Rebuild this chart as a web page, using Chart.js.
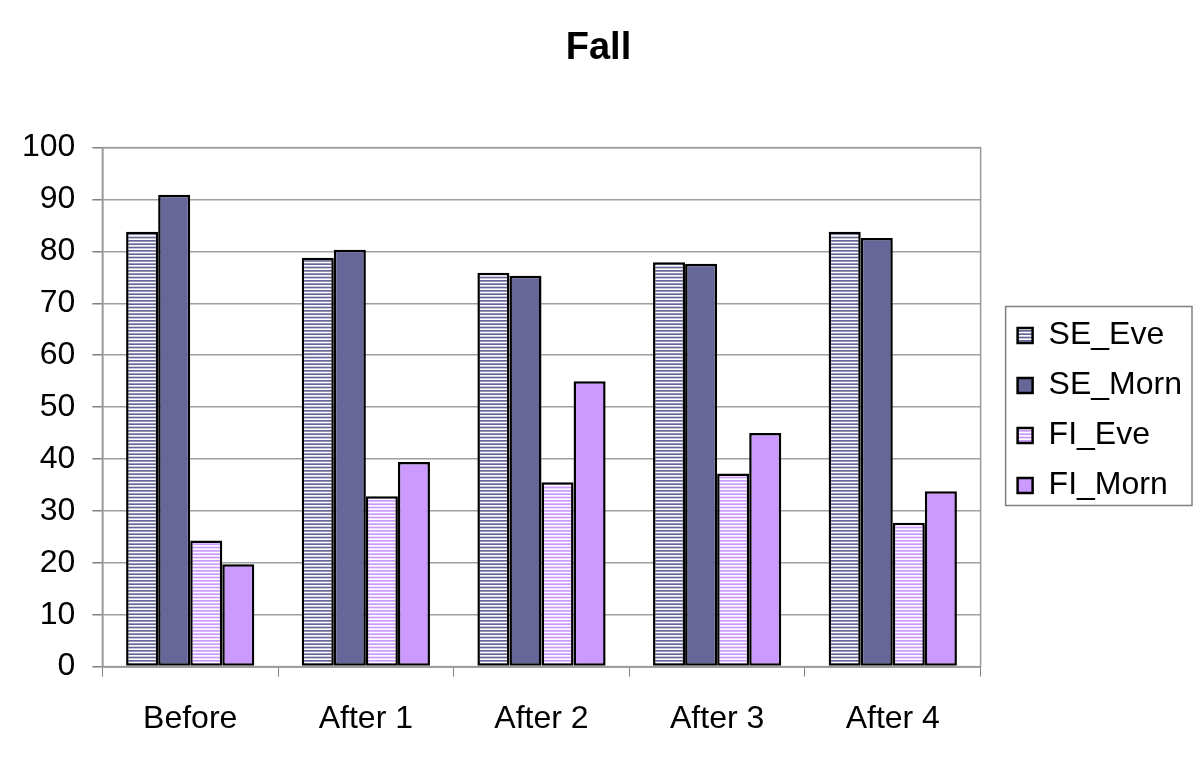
<!DOCTYPE html>
<html>
<head>
<meta charset="utf-8">
<script src="https://cdn.jsdelivr.net/npm/chart.js@4.4.1/dist/chart.umd.min.js"></script>
<style>
  html, body { margin: 0; padding: 0; background: #fff; }
  #wrap { width: 1200px; height: 761px; }
</style>
</head>
<body>
<div id="wrap"><canvas id="chart" width="1200" height="761"></canvas></div>
<script>
// categories and series
const categories = ['Before', 'After 1', 'After 2', 'After 3', 'After 4'];
const seEve  = [83.8, 78.8, 75.9, 77.9, 83.8];
const seMorn = [90.9, 80.3, 75.3, 77.6, 82.6];
const fiEve  = [24.3, 32.8, 35.5, 37.2, 27.7];
const fiMorn = [19.7, 39.4, 55.0, 45.0, 33.8];

const FONT = 'Liberation Sans, Arial, sans-serif';

// horizontal stripe pattern
function stripes(color) {
    const c = document.createElement('canvas');
    c.width = 8;
    c.height = 10;
    const ctx = c.getContext('2d');
    ctx.fillStyle = '#ffffff';
    ctx.fillRect(0, 0, 8, 10);
    ctx.fillStyle = color;
    for (let i = 0; i < 3; i++) {
        ctx.fillRect(0, i * 10 / 3, 8, 1.7);
    }
    return ctx.createPattern(c, 'repeat');
}

// box round the plot area
const plotBorder = {
    id: 'plotBorder',
    afterDraw(chart) {
        const a = chart.chartArea;
        const ctx = chart.ctx;
        ctx.save();
        ctx.strokeStyle = '#9a9a9a';
        ctx.lineWidth = 1.5;
        ctx.strokeRect(a.left, a.top, a.right - a.left, a.bottom - a.top);
        ctx.restore();
    }
};

// frame round the legend items
const legendFrame = {
    id: 'legendFrame',
    afterDraw(chart) {
        const boxes = chart.legend.legendHitBoxes;
        if (!boxes || !boxes.length) return;
        let l = Infinity, t = Infinity, r = -Infinity, b = -Infinity;
        boxes.forEach(h => {
            l = Math.min(l, h.left);
            t = Math.min(t, h.top);
            r = Math.max(r, h.left + h.width);
            b = Math.max(b, h.top + h.height);
        });
        const ctx = chart.ctx;
        ctx.save();
        ctx.strokeStyle = '#808080';
        ctx.lineWidth = 1.5;
        ctx.strokeRect(l - 12, t - 13, (r - l) + 22, (b - t) + 17);
        ctx.restore();
    }
};

const barStyle = { borderColor: '#000000', borderWidth: 2.5, borderSkipped: false };

new Chart(document.getElementById('chart'), {
    type: 'bar',
    data: {
        labels: categories,
        datasets: [
            { label: 'SE_Eve', data: seEve, backgroundColor: stripes('#666699'), ...barStyle },
            { label: 'SE_Morn', data: seMorn, backgroundColor: '#666699', ...barStyle },
            { label: 'FI_Eve', data: fiEve, backgroundColor: stripes('#cc99ff'), ...barStyle },
            { label: 'FI_Morn', data: fiMorn, backgroundColor: '#cc99ff', ...barStyle }
        ]
    },
    options: {
        responsive: false,
        animation: false,
        events: [],
        datasets: {
            bar: { categoryPercentage: 0.73, barPercentage: 1.0 }
        },
        layout: { padding: { left: 5, right: 8, top: 0, bottom: 0 } },
        plugins: {
            title: {
                display: true,
                text: 'Fall',
                color: '#000',
                font: { family: FONT, size: 38, weight: 'bold' },
                padding: { top: 26, bottom: 76 }
            },
            legend: {
                position: 'right',
                // empty title, only pushes the items down
                title: {
                    display: true,
                    text: '',
                    font: { size: 10, lineHeight: 1 },
                    padding: { top: 0, bottom: 50 }
                },
                labels: {
                    color: '#000',
                    font: { family: FONT, size: 32 },
                    boxWidth: 15,
                    boxHeight: 15,
                    padding: 18
                }
            },
            tooltip: { enabled: false }
        },
        scales: {
            x: {
                offset: true,
                grid: {
                    offset: true,
                    drawOnChartArea: false,
                    color: '#808080',
                    tickLength: 10,
                    tickWidth: 1
                },
                border: { color: '#808080', width: 1.5 },
                ticks: {
                    color: '#000',
                    padding: 23,
                    font: { family: FONT, size: 32 }
                }
            },
            y: {
                min: 0,
                max: 100,
                ticks: {
                    stepSize: 10,
                    color: '#000',
                    padding: 17,
                    font: { family: FONT, size: 32 }
                },
                grid: {
                    color: '#a0a0a0',
                    lineWidth: 1.5,
                    tickLength: 10,
                    tickColor: '#808080'
                },
                border: { color: '#808080', width: 1.5 }
            },
            // empty axis that only keeps a gap between plot and legend
            gap: {
                type: 'linear',
                position: 'right',
                grid: { display: false },
                ticks: { display: false },
                border: { display: false },
                afterFit(scale) { scale.width = 19; }
            }
        }
    },
    plugins: [plotBorder, legendFrame]
});
</script>
</body>
</html>
